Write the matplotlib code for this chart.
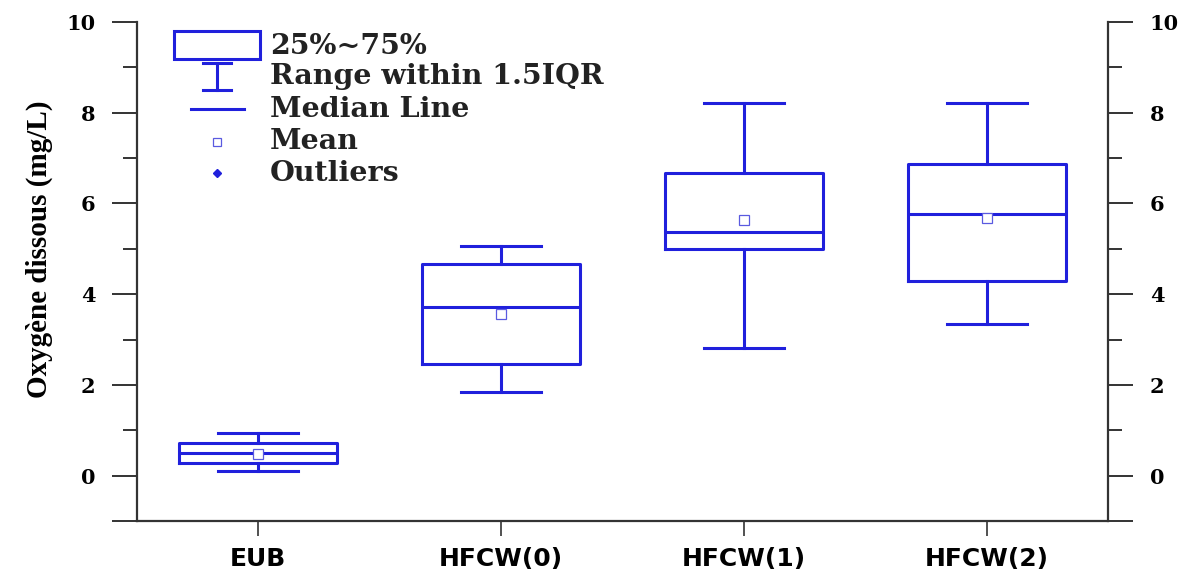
import matplotlib.pyplot as plt
from matplotlib.patches import Rectangle
from matplotlib.lines import Line2D

# Statistiques par site (mg/L)
sites = ["EUB", "HFCW(0)", "HFCW(1)", "HFCW(2)"]
whislo = [0.10, 1.84, 2.81, 3.34]
q1 = [0.28, 2.45, 5.00, 4.28]
med = [0.50, 3.71, 5.36, 5.77]
q3 = [0.72, 4.66, 6.68, 6.88]
whishi = [0.94, 5.07, 8.22, 8.21]
mean = [0.48, 3.57, 5.64, 5.68]

legend_labels = ["25%~75%", "Range within 1.5IQR", "Median Line", "Mean", "Outliers"]

blue = "#2020dc"
axis_col = "#333333"

stats = []
for i, name in enumerate(sites):
    stats.append({"label": name, "whislo": whislo[i], "q1": q1[i], "med": med[i],
                  "q3": q3[i], "whishi": whishi[i], "mean": mean[i], "fliers": []})

fig = plt.figure(figsize=(11.95, 5.71), dpi=100)
ax = fig.add_axes([137 / 1195, 50 / 571, (1108 - 137) / 1195, (521 - 22) / 571])

line_kw = dict(color=blue, linewidth=2.2)
ax.bxp(stats, positions=[1, 2, 3, 4], widths=0.65, capwidths=0.33,
       showmeans=True, showfliers=False,
       boxprops=line_kw, whiskerprops=line_kw, capprops=line_kw, medianprops=line_kw,
       meanprops=dict(marker="s", markersize=7, markerfacecolor="white",
                      markeredgecolor="#5a5ae0", markeredgewidth=0.9))

ax.set_xlim(0.5, 4.5)
ax.set_ylim(-1, 10)

ax.set_yticks([-1, 0, 2, 4, 6, 8, 10])
ax.set_yticklabels(["", "0", "2", "4", "6", "8", "10"])
ax.set_yticks([1, 3, 5, 7, 9], minor=True)
ax.set_xticks([1, 2, 3, 4])
ax.set_xticklabels(sites)

for side in ["left", "right", "bottom"]:
    ax.spines[side].set_color(axis_col)
    ax.spines[side].set_linewidth(1.6)
ax.spines["top"].set_visible(False)

ax.tick_params(axis="y", which="major", direction="out", length=18, width=1.4,
               color=axis_col, pad=12, left=True, right=True,
               labelleft=True, labelright=True)
ax.tick_params(axis="y", which="minor", direction="out", length=10, width=1.4,
               color=axis_col, left=True, right=True)
ax.tick_params(axis="x", direction="out", length=11, width=1.2, color=axis_col, pad=8)

for lab in ax.get_yticklabels():
    lab.set_fontfamily("DejaVu Serif")
    lab.set_fontweight("bold")
    lab.set_fontsize(15)
for lab in ax.get_xticklabels():
    lab.set_fontfamily("DejaVu Sans")
    lab.set_fontweight("bold")
    lab.set_fontsize(18)

ax.set_ylabel("Oxygène dissous (mg/L)", family="Liberation Serif", fontweight="bold",
              fontsize=21)
ax.yaxis.set_label_coords(-0.086, 0.545)


# Légende dessinée à la main (coordonnées en pixels de la figure)
def px(x, y):
    return x / 1195, 1 - y / 571


tf = fig.transFigure
x0, y0 = px(174, 59)
x1, y1 = px(260, 31)
fig.add_artist(Rectangle((x0, y0), x1 - x0, y1 - y0, transform=tf,
                         fill=False, edgecolor=blue, linewidth=2.2))
for (xa, ya), (xb, yb) in [((203, 63), (231, 63)), ((203, 90), (231, 90)),
                           ((217, 63), (217, 90)), ((191, 109), (244, 109))]:
    pa, pb = px(xa, ya), px(xb, yb)
    fig.add_artist(Line2D([pa[0], pb[0]], [pa[1], pb[1]], transform=tf,
                          color=blue, linewidth=2.2))
mx, my = px(217, 142)
fig.add_artist(Line2D([mx], [my], transform=tf, marker="s", markersize=6,
                      markerfacecolor="white", markeredgecolor="#5a5ae0",
                      markeredgewidth=0.9, linestyle="none"))
ox, oy = px(217, 173)
fig.add_artist(Line2D([ox], [oy], transform=tf, marker="D", markersize=4,
                      color=blue, linestyle="none"))

for label, yy in zip(legend_labels, [47, 76, 109, 142, 173]):
    tx, ty = px(270, yy)
    fig.text(tx, ty, label, family="DejaVu Serif", fontweight="bold",
             fontsize=20.5, va="center", ha="left", color="#222222")

fig.savefig("out.png", dpi=100, facecolor="white")
